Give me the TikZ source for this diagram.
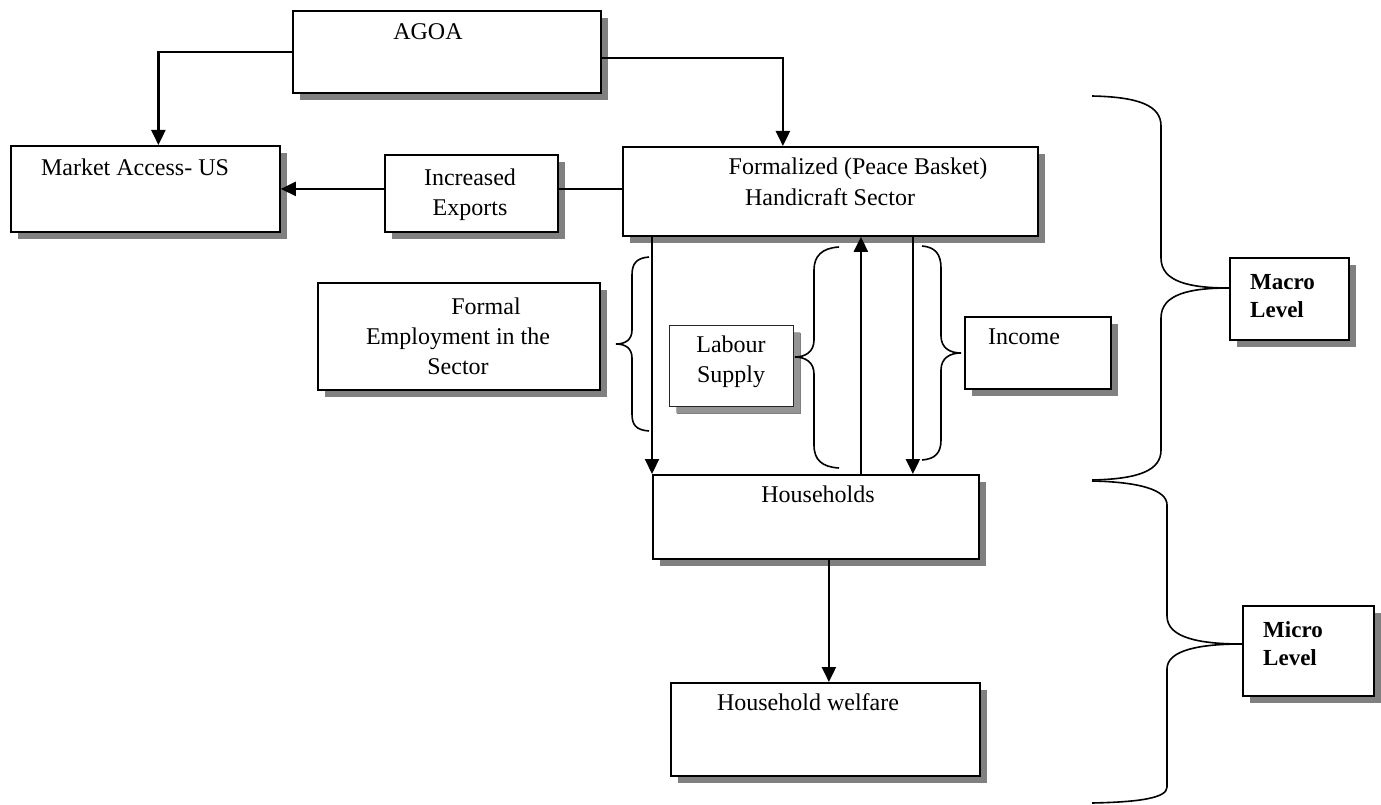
\documentclass[tikz,border=0pt]{standalone}
\usepackage{fontspec}
\setmainfont{Liberation Serif}
\usetikzlibrary{arrows.meta,shadows}
\tikzset{
  box/.style={draw=black, line width=1.8pt, fill=white, inner sep=0pt, anchor=north west,
    drop shadow={shadow xshift=7pt, shadow yshift=-7pt, fill=black!50, opacity=1}},
  lbox/.style={box, draw=black!85, line width=1.4pt,
    drop shadow={shadow xshift=6pt, shadow yshift=-6pt, fill=black!40, opacity=.8}},
  txt/.style={inner sep=0pt, font=\fontsize{24}{30}\selectfont, align=center},
  btxt/.style={inner sep=0pt, font=\fontsize{23}{28}\selectfont\bfseries, align=left, anchor=west},
  conn/.style={line width=2.2pt},
  arr/.style={conn, -{Triangle[length=15pt,width=14pt]}},
  brace/.style={line width=1.6pt}
}
\begin{document}
\begin{tikzpicture}[x=1pt,y=-1pt]
\useasboundingbox (0,0) rectangle (1381,805);
% boxes
\node[box, minimum width=308pt, minimum height=82pt] (agoa) at (292,10) {};
\node[box, minimum width=269pt, minimum height=86pt] (market) at (10,145) {};
\node[box, minimum width=173pt, minimum height=77pt] (exports) at (384,154) {};
\node[box, minimum width=415pt, minimum height=89pt] (sector) at (622,146) {};
\node[box, minimum width=282pt, minimum height=107pt] (employ) at (317,282) {};
\node[lbox, minimum width=124pt, minimum height=81pt] (labour) at (669,325) {};
\node[box, minimum width=146pt, minimum height=72pt] (income) at (964,316) {};
\node[box, minimum width=326pt, minimum height=84pt] (hh) at (652,474) {};
\node[box, minimum width=309pt, minimum height=93pt] (welfare) at (670,682) {};
\node[box, minimum width=119pt, minimum height=82pt] (macro) at (1229,257) {};
\node[box, minimum width=131pt, minimum height=90pt] (micro) at (1242,605) {};
% texts
\node[txt, anchor=mid] (tagoa) at (428,37) {AGOA};
\node[txt, anchor=mid] (tmarket) at (135,173) {Market Access- US};
\node[txt] (texports) at (470,195) {Increased\\Exports};
\node[txt, anchor=mid] (tsector1) at (858,172) {Formalized (Peace Basket)};
\node[txt, anchor=mid] (tsector2) at (830,203) {Handicraft Sector};
\node[txt] (temploy) at (458,336) {\hspace*{56pt}Formal\\Employment in the\\Sector};
\node[txt] (tlabour) at (731,362) {Labour\\Supply};
\node[txt, anchor=mid] (tincome) at (1024,342) {Income};
\node[txt, anchor=mid] (thh) at (818,500) {Households};
\node[txt, anchor=mid] (twelfare) at (808,708) {Household welfare};
\node[btxt] (tmacro) at (1250,296) {Macro\\Level};
\node[btxt] (tmicro) at (1263,644) {Micro\\Level};
% connectors
\draw[arr] (agoa.west) -| ([xshift=13pt]market.north);
\draw[arr] ([yshift=-6pt]agoa.east) -| ([xshift=-47.5pt]sector.north);
\draw[arr] (exports.west |- market.east) -- (market.east);
\draw[conn] (sector.west |- market.east) -- (exports.east |- market.east);
\draw[arr] (hh.north west |- sector.south) -- (hh.north west);
\draw[arr] ([xshift=45pt]hh.north) -- ([xshift=45pt]hh.north |- sector.south);
\draw[arr] ([xshift=97pt]hh.north |- sector.south) -- ([xshift=97pt]hh.north);
\draw[arr] ([xshift=13pt]hh.south) -- ([xshift=13pt]hh.south |- welfare.north);
% small braces
\draw[brace] (649,257) .. controls (636,258) and (632,264) .. (632,275) -- (632,330)
  .. controls (632,340) and (625,344) .. (616,344)
  .. controls (625,344) and (632,348) .. (632,358) -- (632,414)
  .. controls (632,425) and (636,430) .. (649,431);
\draw[brace] (839,247) .. controls (822,248) and (814,256) .. (814,270) -- (814,340)
  .. controls (814,352) and (805,357) .. (795,357)
  .. controls (805,357) and (814,362) .. (814,374) -- (814,445)
  .. controls (814,460) and (822,467) .. (839,468);
\draw[brace] (922,246) .. controls (935,247) and (941,254) .. (941,268) -- (941,336)
  .. controls (941,348) and (950,353) .. (961,353)
  .. controls (950,353) and (941,358) .. (941,370) -- (941,440)
  .. controls (941,453) and (935,459) .. (922,460);
% big braces
\draw[brace] (1092,96) .. controls (1140,97) and (1161,106) .. (1161,126) -- (1161,258)
  .. controls (1161,282) and (1190,288) .. (1229,288)
  .. controls (1190,288) and (1161,294) .. (1161,318) -- (1161,450)
  .. controls (1161,470) and (1140,479) .. (1092,480);
\draw[brace] (1092,481) .. controls (1140,482) and (1167,490) .. (1167,505) -- (1167,616)
  .. controls (1167,638) and (1200,644) .. (1242,644)
  .. controls (1200,644) and (1167,650) .. (1167,669) -- (1167,787)
  .. controls (1167,798) and (1140,802) .. (1092,803);
\end{tikzpicture}
\end{document}
